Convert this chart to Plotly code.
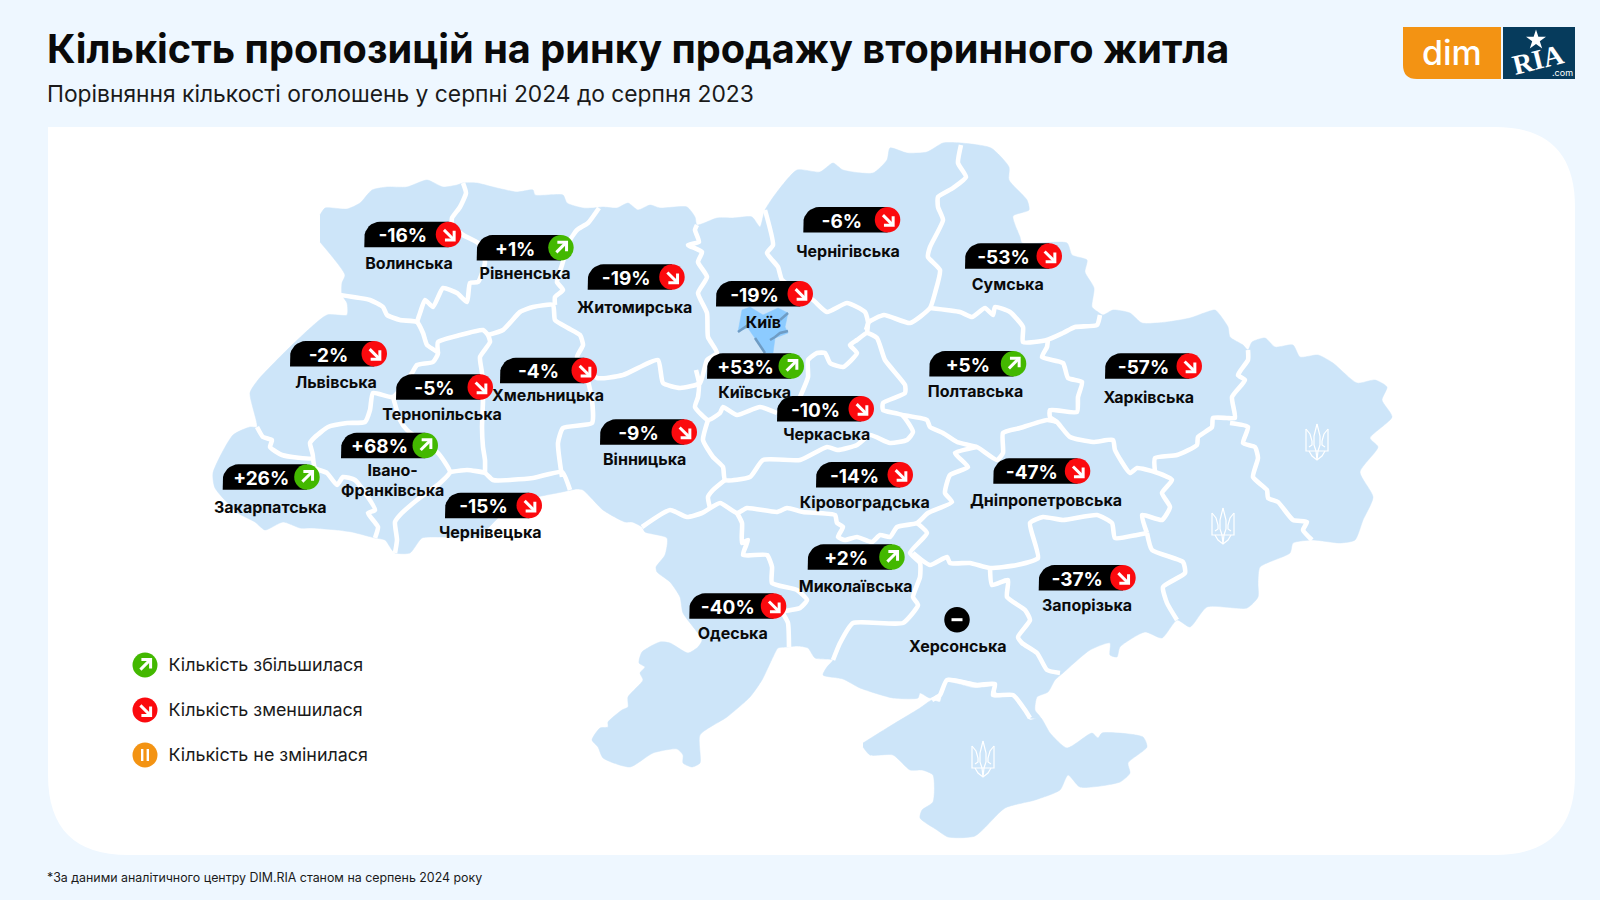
import plotly.graph_objects as go
import math

# ---------- data ----------
REGIONS = ["Волинська","Рівненська","Житомирська","Київ","Чернігівська","Сумська","Львівська","Тернопільська",
           "Хмельницька","Київська","Полтавська","Харківська","Вінницька","Черкаська","Кіровоградська",
           "Дніпропетровська","Івано-<br>Франківська","Закарпатська","Чернівецька","Миколаївська","Одеська","Запорізька"]
CHANGE_PCT = [-16,1,-19,-19,-6,-53,-2,-5,-4,53,5,-57,-9,-10,-14,-47,68,26,-15,2,-40,-37]
BADGE_X = [364.3,476.7,587.7,716,803.3,965,290,396,500,707,929.3,1105,600,777,816,993.3,341,222.7,445,807.7,689.3,1038.7]
BADGE_Y = [221.7,235,264.3,281,207,243.3,341,374.3,357.7,353.3,351,353.3,419.3,396,462,458.3,432.7,464.3,492.7,544.3,593.3,565]
NAME_X = [409,525,634.7,763.3,848,1007.7,336,442,548,754.7,975.5,1148.7,644.7,826.7,864.7,1046,392.7,270.3,490.3,855.7,732.7,1087]
NAME_Y = [265,275,308.5,323.5,252.5,286,383.5,416,397,393.5,393,398.5,461,436,503.5,502,482,508.5,534,588,634.5,607]
NO_DATA_REGION = "Херсонська"
NO_DATA_X, NO_DATA_Y = [957], [619.7]
NO_DATA_NAME_X, NO_DATA_NAME_Y = [957.7], [647.5]

LEGEND_LABELS = ["Кількість збільшилася","Кількість зменшилася","Кількість не змінилася"]
LEGEND_Y = [665,710,755]
TITLE = "Кількість пропозицій на ринку продажу вторинного житла"
SUBTITLE = "Порівняння кількості оголошень у серпні 2024 до серпня 2023"
FOOTNOTE = "*За даними аналітичного центру DIM.RIA станом на серпень 2024 року"

MAINLAND = [(320,215),(325,208),(347,209),(360,203),(372,190),(387,187),(407,187),(427,180),(443,187),(457,185),(463,183),(477,183),(493,187),(517,192),(533,190),(535,195),(563,195),(567,203),(583,208),(593,208),(603,207),(617,208),(628,203),(638,210),(650,205),(660,208),(687,207),(695,217),(697,225),(717,218),(733,218),(752,217),(760,227),(765,210),(777,192),(797,170),(820,172),(833,163),(843,170),(873,173),(887,160),(890,148),(907,153),(927,152),(943,143),(961,143),(991,148),(1009,167),(1009,180),(1027,200),(1029,210),(1013,216),(1020,237),(1022,243),(1067,243),(1072,255),(1087,260),(1085,272),(1094,288),(1092,307),(1098,312),(1103,315),(1113,310),(1130,313),(1142,323),(1167,322),(1190,318),(1215,310),(1220,315),(1228,327),(1230,337),(1243,345),(1248,350),(1252,342),(1265,338),(1275,347),(1293,345),(1300,357),(1318,355),(1333,363),(1357,383),(1375,380),(1387,387),(1382,400),(1392,417),(1370,438),(1378,447),(1360,472),(1373,497),(1363,520),(1355,540),(1340,543),(1313,540),(1293,543),(1290,553),(1260,567),(1258,583),(1258,597),(1247,608),(1207,607),(1190,627),(1177,620),(1162,638),(1145,632),(1120,647),(1117,657),(1110,655),(1110,643),(1090,650),(1063,673),(1055,680),(1048,692),(1037,697),(1035,710),(1040,717),(1030,718),(1025,710),(1017,697),(997,693),(993,685),(977,683),(947,678),(940,693),(930,698),(920,693),(918,698),(893,698),(860,688),(843,679),(823,675),(827,667),(833,660),(815,658),(808,648),(797,646),(787,647),(778,648),(773,657),(762,680),(750,697),(727,717),(700,735),(700,763),(692,767),(683,763),(683,755),(677,749),(653,753),(630,767),(603,758),(598,747),(592,740),(600,728),(608,727),(608,722),(622,710),(628,707),(628,697),(643,680),(640,673),(645,667),(639,663),(642,652),(660,642),(670,643),(688,653),(698,647),(702,640),(683,613),(680,597),(670,582),(657,572),(656,567),(665,555),(667,538),(645,532),(642,527),(632,522),(625,522),(603,510),(583,490),(577,489),(562,492),(533,498),(510,507),(498,518),(477,537),(440,537),(422,538),(410,553),(395,553),(392,550),(385,540),(375,538),(352,532),(337,530),(312,528),(300,528),(283,522),(265,530),(255,522),(238,513),(215,488),(213,473),(233,435),(250,427),(257,427),(250,393),(258,380),(290,347),(327,315),(347,315),(347,303),(342,295),(342,283),(345,275),(320,242)]
CRIMEA = [(863,743),(887,728),(920,708),(932,700),(940,702),(945,682),(975,688),(995,687),(993,697),(1013,697),(1025,713),(1030,720),(1040,717),(1050,733),(1067,748),(1092,733),(1098,738),(1102,733),(1143,737),(1147,747),(1128,763),(1130,773),(1120,782),(1080,787),(1068,775),(1060,790),(1035,800),(1005,808),(975,836),(948,837),(937,830),(920,818),(922,810),(933,802),(933,775),(922,770),(910,770),(893,755),(870,755),(863,747)]
KYIV_CITY = [(738,332),(742,310),(750,307),(763,315),(778,308),(788,313),(785,327),(788,333),(775,338),(773,353),(765,353),(755,338),(748,328)]
KYIV_CITY_SHADE = [[(738,332),(748,325)],[(770,340),(775,337),(780,333),(788,331)],[(755,338),(765,353)],[(780,320),(788,313)]]
BORDERS = [
 [(463,183),(466,193),(460,207),(452,218),(452,225),(463,235),(478,243),(485,262),(478,282),(470,283),(467,302),(457,293),(443,288),(433,307),(425,300),(420,313),(417,322)],
 [(340,295),(370,300),(383,307),(387,315),(400,320),(417,322),(423,333),(427,345),(438,353),(433,362),(417,365),(412,373),(393,397),(373,393),(370,410),(365,422),(347,423),(328,427),(315,437),(310,443),(313,458),(282,455),(270,447),(272,440),(263,437),(257,427)],
 [(313,458),(315,468),(327,473),(337,485),(343,477),(355,480),(375,510),(368,513),(378,527),(375,538)],
 [(393,397),(400,420),(407,430),(438,453),(450,472),(440,483),(417,500),(400,515),(395,522),(397,540),(395,553)],
 [(450,472),(467,470),(485,473),(493,480),(533,478),(562,472),(570,490)],
 [(438,353),(438,342),(460,335),(483,330),(488,335),(490,342),(480,357),(482,373),(483,400),(482,427),(483,447),(485,460),(485,473)],
 [(488,335),(503,330),(520,312),(533,307),(553,305),(555,320),(568,328),(580,335),(583,345),(577,357),(585,370),(592,400),(592,423),(563,428),(558,443),(562,477)],
 [(599,208),(588,223),(577,230),(570,240),(562,265),(557,282),(563,290),(555,297),(555,305)],
 [(580,360),(597,378),(623,375),(658,360),(663,383),(680,388),(700,383),(707,360),(717,353),(708,337),(707,313),(698,293),(707,277),(698,262),(702,252),(688,245),(699,242),(695,230),(697,225)],
 [(696,370),(699,383),(698,397),(695,407),(708,420),(720,413),(723,407),(737,415),(760,407),(777,413)],
 [(708,420),(703,440),(713,457),(723,467),(725,480),(750,477),(763,460),(800,460),(827,447),(838,450),(857,445),(870,435),(890,443),(907,440),(913,432),(902,415),(883,410),(883,403),(905,393),(905,385),(885,360),(877,338),(867,333),(857,340),(850,345),(857,353),(843,367),(830,363),(825,353),(817,353),(808,360),(808,377),(800,397)],
 [(725,480),(713,490),(708,497),(710,508)],
 [(765,210),(773,245),(767,253),(778,267),(782,280),(813,300),(827,312),(847,303),(865,312),(868,322),(867,333)],
 [(961,145),(958,163),(966,177),(953,188),(938,197),(938,207),(943,220),(930,247),(928,257),(940,270),(935,293),(930,308),(910,323),(884,315),(869,322),(866,330)],
 [(930,308),(960,312),(972,317),(985,308),(993,315),(995,307),(1010,312),(1023,327),(1023,342),(1047,340),(1063,333),(1075,327),(1097,325),(1100,315)],
 [(1048,338),(1047,347),(1042,357),(1063,363),(1068,378),(1082,382),(1078,397),(1077,412),(1050,410),(1050,417),(1057,422),(1070,437),(1093,442),(1113,440),(1115,450),(1130,473),(1137,468),(1155,472),(1172,480),(1162,493),(1170,507),(1162,520),(1142,515),(1147,533)],
 [(902,415),(927,420),(930,427),(943,433),(957,442),(977,447),(997,460),(1003,453),(1003,433),(1020,428),(1047,420),(1057,422)],
 [(977,447),(955,453),(968,467),(950,475),(945,493),(952,502),(928,513),(917,523),(897,527),(890,537),(880,535),(872,542),(857,537),(845,540),(838,537),(843,527),(837,523),(835,515),(803,512),(787,508),(777,512),(747,508),(737,513),(720,503),(702,513),(687,517),(670,510),(642,527)],
 [(737,513),(742,523),(742,543),(748,540),(743,555),(767,555),(772,567),(772,583),(797,590),(807,600),(800,608),(783,612),(788,623),(789,647)],
 [(917,523),(927,533),(910,553),(920,563),(920,577),(913,597),(918,605),(903,623),(853,623),(840,643),(833,660)],
 [(913,553),(930,565),(947,557),(950,563),(970,563),(990,568),(1017,565),(1038,558),(1030,523),(1043,517),(1063,520),(1097,515),(1112,523),(1115,538),(1137,535),(1147,533)],
 [(990,568),(992,585),(1008,580),(1007,597),(1025,610),(1030,620),(1018,637),(1022,643),(1037,653),(1047,670),(1060,673)],
 [(1155,472),(1155,458),(1177,455),(1197,445),(1198,437),(1212,427),(1213,418),(1227,418),(1235,418),(1232,397),(1245,380),(1238,375),(1248,360),(1248,350)],
 [(1230,423),(1248,427),(1243,443),(1255,447),(1258,458),(1253,477),(1267,490),(1268,498),(1278,502),(1293,520),(1307,522),(1303,530),(1312,540)],
 [(1147,533),(1152,550),(1183,562),(1185,573),(1163,587),(1167,603),(1177,620)],
 [(932,700),(940,695),(947,680),(977,685),(995,684),(993,695),(1013,695),(1025,710),(1030,718)],
]
TRIDENT_CENTRES = [(1317,442),(1223,526),(983,759)]
TRIDENT_STROKES = [
 [(-11,-13),(-11,9),(11,9),(11,-13)],
 [(-11,-13),(-7,-8),(-5,-1),(-5,3),(-8,5)],
 [(11,-13),(7,-8),(5,-1),(5,3),(8,5)],
 [(0,-18),(-3,-6),(-3,3),(-1,9),(0,18)],
 [(0,-18),(3,-6),(3,3),(1,9),(0,18)],
 [(-8,9),(-5,14),(0,18),(5,14),(8,9)],
]

# ---------- palette ----------
BG = "#EEF7FF"; LAND = "#CDE5F9"; RED = "#FB0A0E"; GREEN = "#43B800"; ORANGE = "#F39313"; INK = "#0A0A0A"
FONT = "Inter"
BADGE_W, BADGE_H = 97, 25.5


def xy(points):
    return [p[0] for p in points], [p[1] for p in points]


def join(lines):
    xs, ys = [], []
    for line in lines:
        a, b = xy(line)
        xs += a + [None]
        ys += b + [None]
    return xs, ys


def badge_outline(x, y):
    h, w = BADGE_H, BADGE_W
    r = h * 0.62
    pts = [(x, y + h), (x, y + r)]
    for i in range(1, 9):
        a = math.pi / 2 * i / 8
        pts.append((x + r - r * math.cos(a), y + r - r * math.sin(a)))
    pts += [(x + w - h / 2, y), (x + w - h / 2, y + h)]
    return pts


def arrow_lines(cx, cy, up):
    s = -1 if up else 1
    d = 4.6
    return [[(cx - d, cy - s * d), (cx + d, cy + s * d)],
            [(cx + d + 1, cy + s * (-d + 1)), (cx + d + 1, cy + s * (d + 1)), (cx - d + 1, cy + s * (d + 1))]]


fig = go.Figure()
for poly in (MAINLAND, CRIMEA):
    px, py = xy(poly)
    fig.add_trace(go.Scatter(x=px, y=py, mode="lines", fill="toself", fillcolor=LAND,
                             line=dict(color=LAND, width=0.5, shape="spline", smoothing=0.6), hoverinfo="skip"))

bx, by = join(BORDERS)
fig.add_trace(go.Scatter(x=bx, y=by, mode="lines", line=dict(color="white", width=4.6, shape="spline", smoothing=0.5),
                         hoverinfo="skip"))

tx, ty = [], []
for cx, cy in TRIDENT_CENTRES:
    a, b = join([[(cx + p[0], cy + p[1]) for p in s] for s in TRIDENT_STROKES])
    tx += a; ty += b
fig.add_trace(go.Scatter(x=tx, y=ty, mode="lines", line=dict(color="white", width=1.2), hoverinfo="skip"))

kx, ky = xy(KYIV_CITY)
fig.add_trace(go.Scatter(x=kx, y=ky, mode="lines", fill="toself", fillcolor="#8CCBFF",
                         line=dict(color="#8CCBFF", width=0.5), hoverinfo="skip"))
sx, sy = join(KYIV_CITY_SHADE)
fig.add_trace(go.Scatter(x=sx, y=sy, mode="lines", line=dict(color="#6F9CC4", width=2.5), hoverinfo="skip"))

# badges
for x, y in zip(BADGE_X, BADGE_Y):
    a, b = xy(badge_outline(x, y))
    fig.add_trace(go.Scatter(x=a, y=b, mode="lines", fill="toself", fillcolor="black",
                             line=dict(color="black", width=0), hoverinfo="skip"))

cxs = [x + BADGE_W - BADGE_H / 2 for x in BADGE_X]
cys = [y + BADGE_H / 2 for y in BADGE_Y]
colors = [GREEN if v > 0 else RED for v in CHANGE_PCT]
fig.add_trace(go.Scatter(x=cxs, y=cys, mode="markers", hoverinfo="skip",
                         marker=dict(size=BADGE_H, color=colors, line=dict(width=0))))
ax, ay = [], []
for cx, cy, v in zip(cxs, cys, CHANGE_PCT):
    a, b = join(arrow_lines(cx, cy, v > 0))
    ax += a; ay += b
fig.add_trace(go.Scatter(x=ax, y=ay, mode="lines", line=dict(color="white", width=3), hoverinfo="skip"))

fig.add_trace(go.Scatter(x=[x + 38.5 for x in BADGE_X], y=[c + 3 for c in cys], mode="text", hoverinfo="skip",
                         text=[f"{v:+d}%" for v in CHANGE_PCT], textposition="middle center",
                         textfont=dict(family=FONT, size=19, color="white", weight=700)))
fig.add_trace(go.Scatter(x=NAME_X + NO_DATA_NAME_X, y=NAME_Y + NO_DATA_NAME_Y, mode="text", hoverinfo="skip",
                         text=REGIONS + [NO_DATA_REGION], textposition="middle center",
                         textfont=dict(family=FONT, size=16, color=INK, weight=700)))

# no-data marker
fig.add_trace(go.Scatter(x=NO_DATA_X, y=NO_DATA_Y, mode="markers", hoverinfo="skip",
                         marker=dict(size=BADGE_H, color="black", line=dict(width=0))))
fig.add_trace(go.Scatter(x=[NO_DATA_X[0] - 5.5, NO_DATA_X[0] + 5.5], y=NO_DATA_Y * 2, mode="lines", hoverinfo="skip",
                         line=dict(color="white", width=3)))

# legend
LX = 145
fig.add_trace(go.Scatter(x=[LX] * 3, y=LEGEND_Y, mode="markers", hoverinfo="skip",
                         marker=dict(size=25, color=[GREEN, RED, ORANGE], line=dict(width=0))))
a1, b1 = join(arrow_lines(LX, LEGEND_Y[0], True) + arrow_lines(LX, LEGEND_Y[1], False))
fig.add_trace(go.Scatter(x=a1, y=b1, mode="lines", line=dict(color="white", width=3), hoverinfo="skip"))
a2, b2 = join([[(LX - 2.8, LEGEND_Y[2] - 6), (LX - 2.8, LEGEND_Y[2] + 6)], [(LX + 2.8, LEGEND_Y[2] - 6), (LX + 2.8, LEGEND_Y[2] + 6)]])
fig.add_trace(go.Scatter(x=a2, y=b2, mode="lines", line=dict(color="white", width=2.4), hoverinfo="skip"))
fig.add_trace(go.Scatter(x=[168.5] * 3, y=[v + 2 for v in LEGEND_Y], mode="text", hoverinfo="skip", text=LEGEND_LABELS,
                         textposition="middle right", textfont=dict(family=FONT, size=17.9, color="#1a1a1a")))

# logo star
fig.add_trace(go.Scatter(x=[1536], y=[40], mode="markers", hoverinfo="skip",
                         marker=dict(symbol="star", size=15, color="white", line=dict(width=0))))

R = 80
panel = (f"M 48,127 L {1575-R},127 Q 1575,127 1575,{127+R} L 1575,{855-R} Q 1575,855 {1575-R},855 "
         f"L {48+R},855 Q 48,855 48,{855-R} Z")
logo_left = "M 1403,27 L 1501,27 L 1501,79 L 1417,79 Q 1403,79 1403,65 Z"
shapes = [dict(type="path", path=panel, xref="x", yref="y", fillcolor="white", line=dict(width=0), layer="below"),
          dict(type="path", path=logo_left, xref="x", yref="y", fillcolor=ORANGE, line=dict(width=0), layer="below"),
          dict(type="rect", x0=1503, x1=1575, y0=27, y1=79, xref="x", yref="y", fillcolor="#063B5C",
               line=dict(width=0), layer="below")]


def note(x, y, text, size, color="black", weight=400, family=FONT, anchor="left", angle=0):
    return dict(x=x, y=y, xref="x", yref="y", text=text, showarrow=False, xanchor=anchor, yanchor="middle",
                font=dict(family=family, size=size, color=color, weight=weight), textangle=angle)


annotations = [
    note(44.5, 49, TITLE, 39.7, INK, 700),
    note(44.5, 93, SUBTITLE, 22.8, "#1a1a1a", 400),
    note(44.5, 877, FOOTNOTE, 12.4, "#1a1a1a", 400),
    note(1452, 52, "dim", 34, "white", 500, anchor="center"),
    note(1538, 59, "RIA", 28, "white", 700, "Liberation Serif", "center", -14),
    note(1562, 72, ".com", 9, "white", 400, anchor="center"),
]

fig.update_layout(
    width=1600, height=900, margin=dict(l=0, r=0, t=0, b=0), showlegend=False,
    paper_bgcolor=BG, plot_bgcolor=BG, shapes=shapes, annotations=annotations,
    xaxis=dict(range=[0, 1600], visible=False, fixedrange=True),
    yaxis=dict(range=[900, 0], visible=False, fixedrange=True),
)
fig.write_html("out.html", config=dict(displayModeBar=False),
               post_script="document.body.style.margin='0';document.body.style.background='#EEF7FF';")
